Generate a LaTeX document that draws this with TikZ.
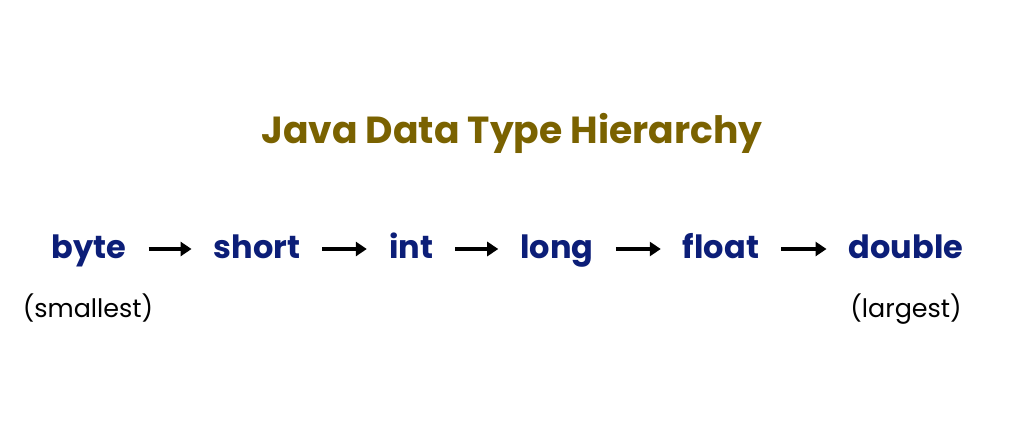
\documentclass[tikz,border=0pt]{standalone}
\usepackage{fontspec}
\setmainfont{Poppins}
\usetikzlibrary{arrows.meta}
\definecolor{titlecol}{RGB}{122,98,0}
\definecolor{wordcol}{RGB}{12,30,120}
\begin{document}
\begin{tikzpicture}[x=1pt,y=-1pt,
  word/.style={anchor=base,inner sep=0pt,text=wordcol,font=\fontsize{32}{34}\selectfont\bfseries},
  note/.style={anchor=base,inner sep=0pt,text=black,font=\fontsize{25.4}{28}\selectfont},
  conn/.style={line width=3.6pt,-{Triangle[length=11pt,width=14pt]},shorten <=22pt,shorten >=22pt}]
\useasboundingbox[fill=white] (0,0) rectangle (1024,442);
\node[anchor=base,inner sep=0pt,text=titlecol,font=\fontsize{37.7}{42}\selectfont\bfseries] (title) at (512,143) {Java Data Type Hierarchy};
\node[word] (byte) at (89,258) {byte};
\node[word] (short) at (257,258) {short};
\node[word] (int) at (411,258) {int};
\node[word] (long) at (557,258) {long};
\node[word] (float) at (721,258) {float};
\node[word] (double) at (906,258) {double};
\node[note] (small) at (88,317) {(smallest)};
\node[note] (large) at (906,317) {(largest)};
\foreach \a/\b in {byte/short,short/int,int/long,long/float,float/double}
  \draw[conn] ([yshift=9pt]\a.base east) -- ([yshift=9pt]\b.base west);
\end{tikzpicture}
\end{document}
